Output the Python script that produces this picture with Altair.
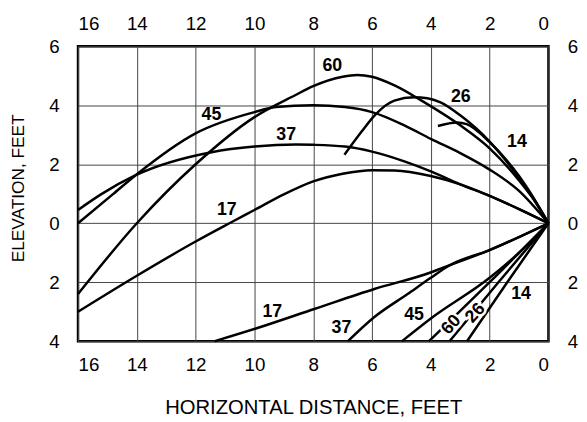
import altair as alt
import pandas as pd

FONT = "Liberation Sans"

# ---- upper trajectories (horizontal distance ft, elevation ft) ----
up60_x = [16, 14, 12, 10, 8.6, 8, 7, 6.5, 6, 5.2, 4.3, 3, 2, 1, 0.5, 0]
up60_y = [-2.4, 0, 2.0, 3.6, 4.35, 4.65, 4.97, 5.03, 4.97, 4.66, 4.15, 3.32, 2.54, 1.45, 0.8, 0]

up45_x = [16, 14.82, 14.04, 12, 10, 9.28, 8, 6.92, 6, 4.9, 4, 3, 2, 1, 0]
up45_y = [0.0, 0.98, 1.63, 3.05, 3.77, 3.94, 4.0, 3.94, 3.77, 3.32, 2.86, 2.38, 1.82, 1.1, 0]

up37_x = [16, 15.22, 14.04, 11.46, 10, 8.6, 8, 6.92, 6, 4.9, 4, 3, 2, 1, 0]
up37_y = [0.45, 0.98, 1.63, 2.41, 2.6, 2.67, 2.66, 2.6, 2.43, 2.1, 1.76, 1.32, 0.93, 0.48, 0]

up17_x = [16, 14, 12, 10.85, 10, 9, 8, 7, 6, 5.24, 4, 3, 2, 1, 0]
up17_y = [-3.0, -1.78, -0.62, 0.0, 0.45, 0.98, 1.42, 1.68, 1.8, 1.79, 1.6, 1.32, 0.93, 0.48, 0]

up26_x = [6.94, 6.36, 5.91, 5.24, 4.57, 4.12, 3.67, 3, 2, 1, 0.5, 0]
up26_y = [2.32, 3.1, 3.66, 4.16, 4.27, 4.24, 4.1, 3.66, 2.77, 1.54, 0.82, 0]

up14_x = [3.76, 3.11, 2.78, 2, 1, 0.5, 0]
up14_y = [3.3, 3.42, 3.36, 2.75, 1.6, 0.85, 0]

# ---- lower trajectories ----
lo17_x = [11.35, 9.95, 7.94, 5.92, 4.01, 3.67, 2.01, 0]
lo17_y = [-4.0, -3.57, -2.9, -2.23, -1.67, -1.54, -0.91, 0]

lo37_x = [6.82, 5.92, 4.79, 4.0, 3.4, 2.0, 0]
lo37_y = [-4.0, -3.18, -2.4, -1.85, -1.45, -0.91, 0]

lo45_x = [4.98, 4, 2, 1, 0]
lo45_y = [-4.0, -3.23, -1.85, -1.0, 0]

lo60_x = [4.06, 2, 0]
lo60_y = [-4.0, -2.0, 0]

lo26_x = [3.36, 1.7, 0]
lo26_y = [-4.0, -2.0, 0]

lo14_x = [2.77, 1.4, 0]
lo14_y = [-4.0, -2.0, 0]

# ---- curve labels ----
lab_text = ["60", "26", "14", "45", "37", "17", "17", "37", "45", "14"]
lab_x = [7.35, 2.98, 1.07, 11.46, 8.92, 10.94, 9.39, 7.04, 4.57, 0.93]
lab_y = [5.33, 4.27, 2.77, 3.66, 2.99, 0.45, -3.01, -3.57, -3.1, -2.39]

rot_text = ["60", "26"]
rot_x = [3.3, 2.48]
rot_y = [-3.45, -3.05]

x_ticks = [16, 14, 12, 10, 8, 6, 4, 2, 0]
y_ticks = [-4, -2, 0, 2, 4, 6]

curves = {
    "u60": (up60_x, up60_y), "u45": (up45_x, up45_y), "u37": (up37_x, up37_y),
    "u17": (up17_x, up17_y), "u26": (up26_x, up26_y), "u14": (up14_x, up14_y),
    "l17": (lo17_x, lo17_y), "l37": (lo37_x, lo37_y), "l45": (lo45_x, lo45_y),
    "l60": (lo60_x, lo60_y), "l26": (lo26_x, lo26_y), "l14": (lo14_x, lo14_y),
}
rows = []
for name, (xs, ys) in curves.items():
    for i, (a, b) in enumerate(zip(xs, ys)):
        rows.append({"x": a, "y": b, "curve": name, "order": i})
df = pd.DataFrame(rows)

labels = pd.DataFrame({"x": lab_x, "y": lab_y, "t": lab_text})
rlabels = pd.DataFrame({"x": rot_x, "y": rot_y, "t": rot_text})

xscale = alt.Scale(domain=[16, 0], nice=False, zero=False)
yscale = alt.Scale(domain=[-4, 6], nice=False, zero=False)

common = dict(ticks=False, domain=False, labelFont=FONT, labelFontSize=19,
              labelColor="black", titleFont=FONT,
              titleFontWeight="normal", titleColor="black")

lines = alt.Chart(df).mark_line(
    color="black", strokeWidth=2.5, interpolate="monotone"
).encode(
    x=alt.X("x:Q", scale=xscale, axis=alt.Axis(
        orient="bottom", values=x_ticks, title="HORIZONTAL DISTANCE, FEET",
        grid=True, gridColor="#444", gridWidth=1, gridOpacity=1,
        labelBaseline="middle", labelPadding=24, titleFontSize=20.5,
        titleY=67, titleBaseline="middle", **common)),
    y=alt.Y("y:Q", scale=yscale, axis=alt.Axis(
        orient="left", values=y_ticks, title="ELEVATION, FEET",
        labelExpr="'' + abs(datum.value)",
        grid=True, gridColor="#444", gridWidth=1, gridOpacity=1,
        labelPadding=19, labelBaseline="middle", titleFontSize=17.5,
        titleX=-60, titleY=143.5, titleAngle=270, titleAlign="center",
        titleBaseline="middle", **common)),
    detail="curve:N",
    order="order:Q",
)

ghost = alt.Chart(df).mark_point(opacity=0).encode(
    x=alt.X("x:Q", scale=xscale, axis=alt.Axis(
        orient="top", values=x_ticks, title=None, grid=False,
        labelBaseline="middle", labelPadding=23, **common)),
    y=alt.Y("y:Q", scale=yscale, axis=alt.Axis(
        orient="right", values=y_ticks, title=None, grid=False,
        labelExpr="'' + abs(datum.value)", labelAlign="left",
        labelBaseline="middle", labelPadding=19, **common)),
)

xe = alt.X("x:Q", scale=xscale, axis=None)
ye = alt.Y("y:Q", scale=yscale, axis=None)

text = alt.Chart(labels).mark_text(
    font=FONT, fontSize=18, fontWeight="bold", color="black"
).encode(x=xe, y=ye, text="t:N")

halo = alt.Chart(rlabels).mark_text(
    font=FONT, fontSize=18, fontWeight="bold", stroke="white", strokeWidth=5,
    fill="white", angle=312
).encode(x=xe, y=ye, text="t:N")

rtext = alt.Chart(rlabels).mark_text(
    font=FONT, fontSize=18, fontWeight="bold", color="black", angle=312
).encode(x=xe, y=ye, text="t:N")

chart = alt.layer(lines, ghost, text, halo, rtext).resolve_axis(
    x="independent", y="independent"
).properties(
    width=477, height=299,
    padding={"left": 71, "top": 36, "right": 31, "bottom": 75},
    autosize=alt.AutoSizeParams(type="none"),
    background="white",
).configure_view(stroke="black", strokeWidth=2.5)

chart.save("out.html", embed_options={"renderer": "svg", "actions": False})
